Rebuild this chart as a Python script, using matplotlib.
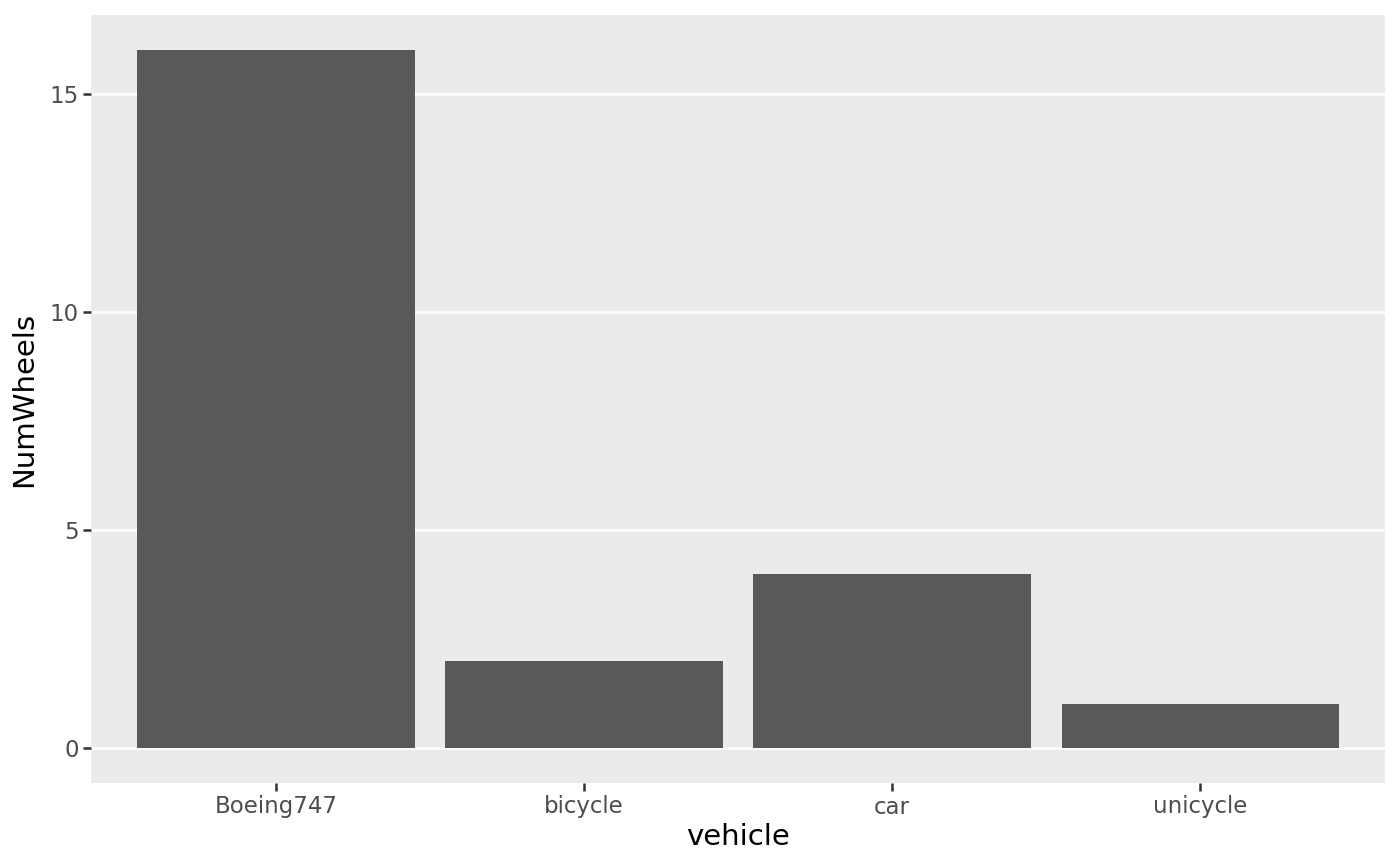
import matplotlib
matplotlib.use("Agg")
import matplotlib.pyplot as plt

vehicles = ["Boeing747", "bicycle", "car", "unicycle"]
num_wheels = [16, 2, 4, 1]
y_ticks = [0, 5, 10, 15]

fig = plt.figure(figsize=(14, 8.66), dpi=100)
ax = fig.add_axes([91 / 1400, 1 - 783 / 866, (1385 - 91) / 1400, (783 - 15) / 866])

ax.set_facecolor("#EBEBEB")
positions = list(range(1, len(vehicles) + 1))
ax.bar(positions, num_wheels, width=0.9, color="#595959", zorder=3)

ax.set_xlim(0.4, len(vehicles) + 0.6)
ymax = max(num_wheels)
ax.set_ylim(-0.05 * ymax, 1.05 * ymax)

ax.set_xticks(positions)
ax.set_xticklabels(vehicles)
ax.set_yticks(y_ticks)
ax.grid(axis="y", color="white", linewidth=1.8, zorder=1)
ax.set_axisbelow(True)

for s in ax.spines.values():
    s.set_visible(False)

ax.tick_params(axis="both", length=6, width=1.8, color="#333333",
               labelsize=16.5, labelcolor="#4D4D4D", pad=3)

ax.set_xlabel("vehicle", fontsize=21, color="black", labelpad=3)
ax.set_ylabel("NumWheels", fontsize=21, color="black", labelpad=8)

fig.savefig("out.png", dpi=100)
